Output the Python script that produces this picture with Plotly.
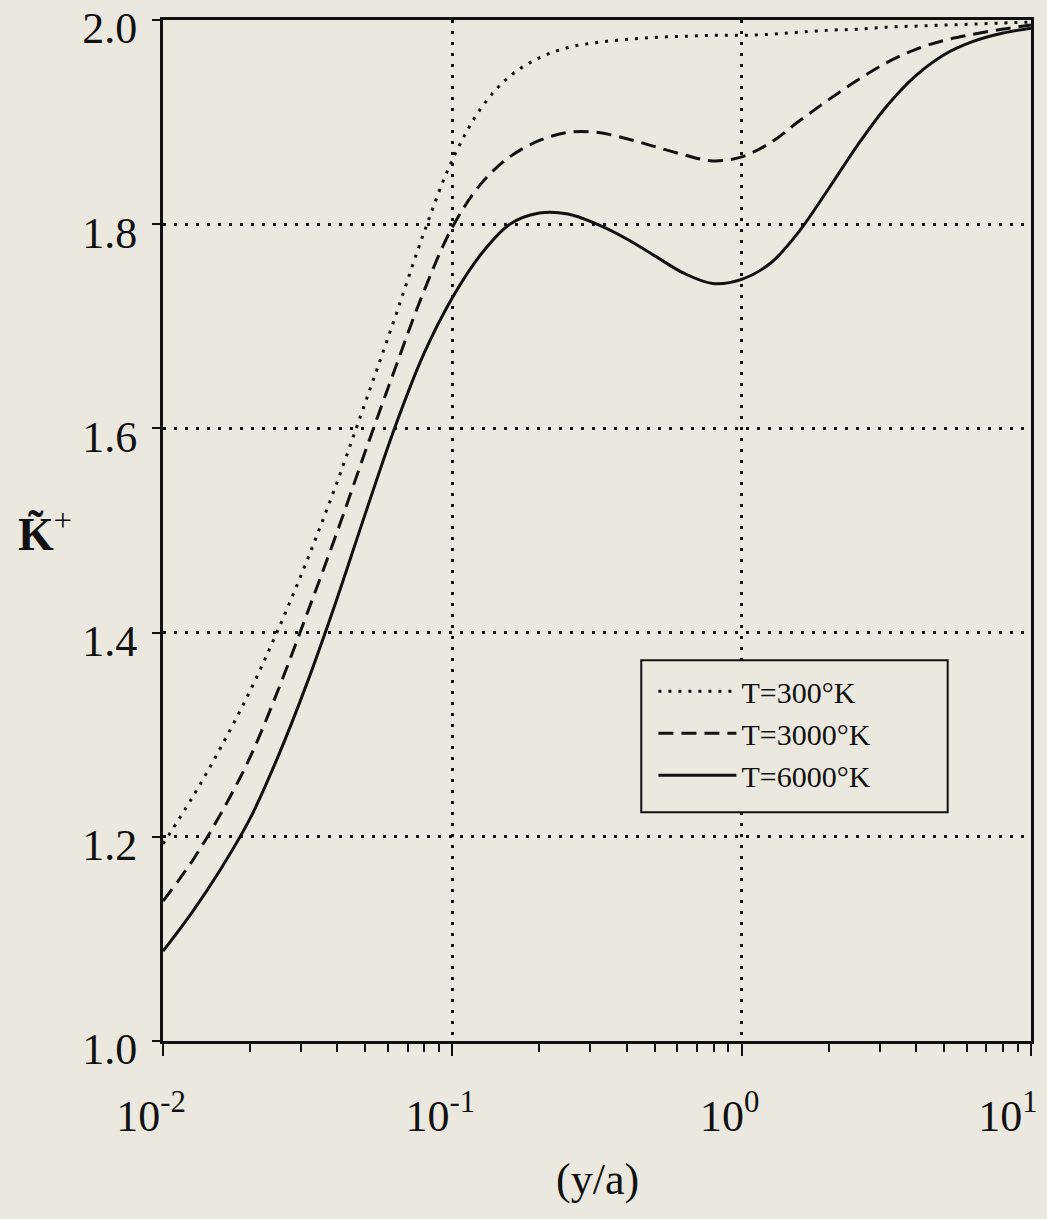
import plotly.graph_objects as go

# Distance from the wall, y/a (tenth-of-a-decade steps)
y_over_a = [0.01, 0.0126, 0.0158, 0.02, 0.0251, 0.0316, 0.0398, 0.0501, 0.0631, 0.0794,
            0.1, 0.126, 0.158, 0.2, 0.251, 0.316, 0.398, 0.501, 0.631, 0.794,
            1.0, 1.26, 1.58, 2.0, 2.51, 3.16, 3.98, 5.01, 6.31, 7.94, 10.0]

# Normalised K+ for each gas temperature
k_300 = [1.193, 1.238, 1.287, 1.343, 1.404, 1.472, 1.546, 1.626, 1.707, 1.790,
         1.863, 1.914, 1.945, 1.963, 1.973, 1.978, 1.981, 1.983, 1.984, 1.985,
         1.985, 1.986, 1.988, 1.990, 1.991, 1.993, 1.994, 1.995, 1.996, 1.997, 1.998]

k_3000 = [1.137, 1.176, 1.222, 1.278, 1.345, 1.420, 1.497, 1.578, 1.657, 1.733,
          1.797, 1.840, 1.866, 1.882, 1.890, 1.890, 1.884, 1.876, 1.868, 1.862,
          1.866, 1.880, 1.901, 1.922, 1.941, 1.958, 1.971, 1.980, 1.986, 1.991, 1.995]

k_6000 = [1.088, 1.126, 1.168, 1.218, 1.280, 1.352, 1.432, 1.517, 1.600, 1.672,
          1.728, 1.771, 1.800, 1.811, 1.810, 1.800, 1.786, 1.769, 1.752, 1.742,
          1.746, 1.762, 1.793, 1.835, 1.877, 1.915, 1.945, 1.966, 1.979, 1.987, 1.992]

series_names = ["T=300°K", "T=3000°K", "T=6000°K"]

x_tickvals = [0.01, 0.1, 1, 10]
# trailing no-break spaces keep the last label inside the page
x_ticktext = ["10<sup>-2</sup>", "10<sup>-1</sup>", "10<sup>0</sup>", "10<sup>1</sup>\u00a0\u00a0"]
y_tickvals = [1.0, 1.2, 1.4, 1.6, 1.8, 2.0]
y_ticktext = ["1.0", "1.2", "1.4", "1.6", "1.8", "2.0"]

BG = "#ebe9df"
INK = "#111111"
SERIF = "Liberation Serif"
EPS = 1e-6

fig = go.Figure()
styles = [dict(dash="3px,7px", width=3),
          dict(dash="15px,8px", width=3),
          dict(dash="solid", width=3)]
for name, ys, st in zip(series_names, [k_300, k_3000, k_6000], styles):
    fig.add_trace(go.Scatter(
        x=y_over_a, y=ys, mode="lines", name=name,
        line=dict(color=INK, width=st["width"], dash=st["dash"], shape="spline", smoothing=1.0),
    ))

minor_x = [m * 10 ** e for e in (-2, -1, 0) for m in range(2, 10)]

fig.update_xaxes(
    type="log", range=[-2 - EPS, 1 + EPS], automargin=False,
    tickmode="array", tickvals=x_tickvals, ticktext=x_ticktext,
    ticks="outside", ticklen=12, tickwidth=2, tickcolor=INK,
    minor=dict(tickmode="array", tickvals=minor_x, ticks="outside", ticklen=8,
               tickwidth=2, tickcolor=INK, showgrid=False),
    showline=True, linewidth=3, linecolor=INK, mirror=True,
    showgrid=True, gridcolor=INK, gridwidth=2.5, griddash="3px,8px",
    zeroline=False,
    tickfont=dict(family=SERIF, size=44, color=INK),
    ticklabelstandoff=22, ticklabelshift=-12, ticklabeloverflow="allow",
)
fig.update_yaxes(
    range=[1.0 - EPS, 2.0 + EPS], automargin=False,
    tickmode="array", tickvals=y_tickvals, ticktext=y_ticktext,
    ticks="outside", ticklen=8, tickwidth=2, tickcolor=INK,
    showline=True, linewidth=3, linecolor=INK, mirror=True,
    showgrid=True, gridcolor=INK, gridwidth=2.5, griddash="3px,8px",
    zeroline=False,
    tickfont=dict(family=SERIF, size=44, color=INK),
    ticklabelstandoff=6, ticklabelshift=8, ticklabeloverflow="allow",
)

# Legend frame
fig.add_shape(type="rect", xref="paper", yref="paper",
              x0=0.551, x1=0.904, y0=0.224, y1=0.373,
              fillcolor=BG, line=dict(color=INK, width=2), layer="above")

fig.update_layout(
    width=1047, height=1219,
    margin=dict(l=163, r=16, t=20, b=178, autoexpand=False),
    paper_bgcolor=BG, plot_bgcolor=BG,
    showlegend=True,
    legend=dict(x=0.565, y=0.368, xanchor="left", yanchor="top",
                bgcolor="rgba(0,0,0,0)", borderwidth=0,
                font=dict(family=SERIF, size=30, color=INK),
                itemwidth=78, tracegroupgap=0),
    annotations=[
        dict(text="(y/a)", xref="paper", yref="paper", x=0.5, y=-0.136,
             xanchor="center", yanchor="middle", showarrow=False,
             font=dict(family=SERIF, size=44, color=INK)),
        dict(text="<b>K\u0303</b><sup>+</sup>", xref="paper", yref="paper", x=-0.136, y=0.5,
             xanchor="center", yanchor="middle", showarrow=False,
             font=dict(family=SERIF, size=46, color=INK)),
    ],
)

fig.write_html("out.html")
